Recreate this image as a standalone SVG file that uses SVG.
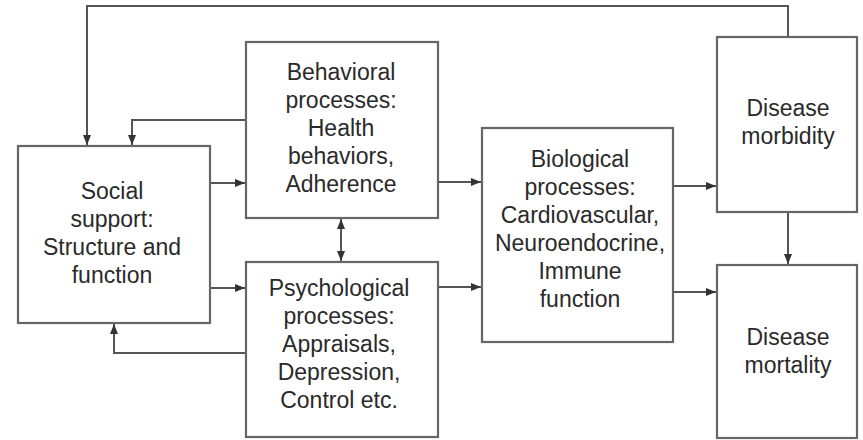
<svg xmlns="http://www.w3.org/2000/svg" width="863" height="440" viewBox="0 0 863 440">
<style>
.box{fill:#fff;stroke:#666;stroke-width:2.2}
.t{font-family:"Liberation Sans",Arial,sans-serif;font-size:23px;fill:#2a2a2a;text-anchor:middle}
.c{fill:none;stroke:#555;stroke-width:2}
</style>
<defs>
<marker id="ah" viewBox="0 0 10 8" refX="10" refY="4" markerWidth="10" markerHeight="8" markerUnits="userSpaceOnUse" orient="auto-start-reverse">
<path d="M0,0 L10,4 L0,8 z" fill="#333"/>
</marker>
</defs>
<rect width="863" height="440" fill="#fff"/>
<g id="connectors">
<path class="c" d="M788,37 V6 H87 V145" marker-end="url(#ah)"/>
<path class="c" d="M246,120 H132 V145" marker-end="url(#ah)"/>
<path class="c" d="M210,183 H245" marker-end="url(#ah)"/>
<path class="c" d="M210,288 H245" marker-end="url(#ah)"/>
<path class="c" d="M246,353 H114 V324" marker-end="url(#ah)"/>
<path class="c" d="M341,219 V261" marker-start="url(#ah)" marker-end="url(#ah)"/>
<path class="c" d="M438,182 H481" marker-end="url(#ah)"/>
<path class="c" d="M438,287 H481" marker-end="url(#ah)"/>
<path class="c" d="M673,186 H716" marker-end="url(#ah)"/>
<path class="c" d="M673,292 H716" marker-end="url(#ah)"/>
<path class="c" d="M788,212 V264" marker-end="url(#ah)"/>
</g>
<g id="social">
<rect class="box" x="18" y="146" width="192" height="177"/>
<text class="t" x="112" y="199">Social</text>
<text class="t" x="112" y="227">support:</text>
<text class="t" x="112" y="255">Structure and</text>
<text class="t" x="112" y="283">function</text>
</g>
<g id="behavioral">
<rect class="box" x="246" y="42" width="192" height="176"/>
<text class="t" x="341" y="80">Behavioral</text>
<text class="t" x="341" y="108">processes:</text>
<text class="t" x="341" y="136">Health</text>
<text class="t" x="341" y="164">behaviors,</text>
<text class="t" x="341" y="192">Adherence</text>
</g>
<g id="psychological">
<rect class="box" x="246" y="262" width="192" height="175"/>
<text class="t" x="339" y="296">Psychological</text>
<text class="t" x="339" y="324">processes:</text>
<text class="t" x="339" y="352">Appraisals,</text>
<text class="t" x="339" y="380">Depression,</text>
<text class="t" x="339" y="408">Control etc.</text>
</g>
<g id="biological">
<rect class="box" x="482" y="128" width="191" height="214"/>
<text class="t" x="580" y="167">Biological</text>
<text class="t" x="580" y="195">processes:</text>
<text class="t" x="580" y="223">Cardiovascular,</text>
<text class="t" x="580" y="251">Neuroendocrine,</text>
<text class="t" x="580" y="279">Immune</text>
<text class="t" x="580" y="307">function</text>
</g>
<g id="morbidity">
<rect class="box" x="717" y="37" width="140" height="175"/>
<text class="t" x="788" y="116">Disease</text>
<text class="t" x="788" y="144">morbidity</text>
</g>
<g id="mortality">
<rect class="box" x="717" y="265" width="140" height="173"/>
<text class="t" x="788" y="345">Disease</text>
<text class="t" x="788" y="373">mortality</text>
</g>
</svg>
